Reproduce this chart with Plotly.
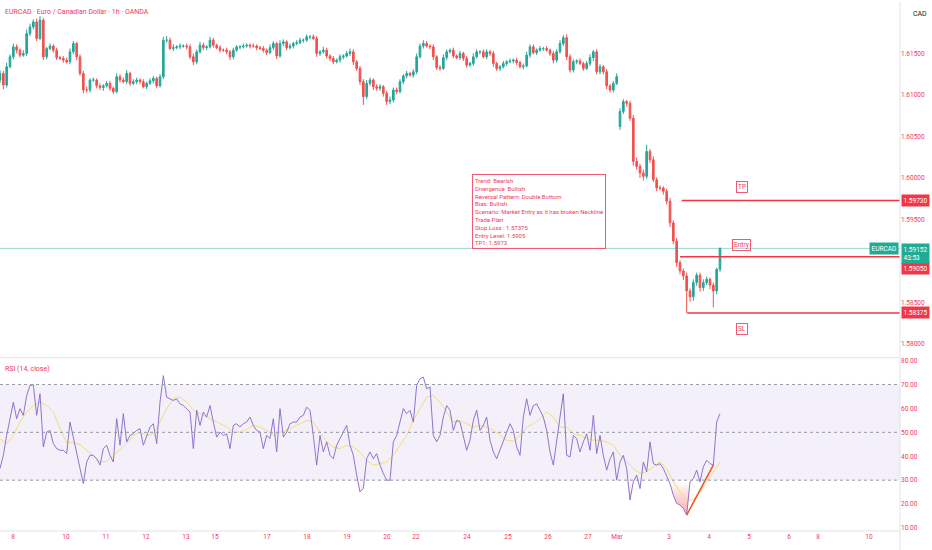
import plotly.graph_objects as go
from plotly.subplots import make_subplots

# EURCAD closes (in pips, 1 pip = 0.0001), one value per 2h bar
close_pips = [
    16126, 16112, 16134, 16146, 16158, 16154, 16148, 16150, 16174, 16182,
    16188, 16168, 16190, 16146, 16156, 16159, 16154, 16145, 16144, 16142,
    16140, 16152, 16162, 16146, 16126, 16106, 16106, 16118, 16118, 16111,
    16109, 16111, 16114, 16108, 16104, 16122, 16118, 16116, 16126, 16114,
    16116, 16118, 16116, 16110, 16114, 16117, 16120, 16111, 16122, 16166,
    16166, 16156, 16157, 16158, 16159, 16159, 16158, 16146, 16140, 16152,
    16160, 16157, 16158, 16166, 16160, 16157, 16154, 16154, 16152, 16146,
    16154, 16158, 16158, 16159, 16160, 16159, 16159, 16157, 16156, 16154,
    16151, 16157, 16162, 16147, 16162, 16164, 16157, 16159, 16162, 16163,
    16166, 16166, 16170, 16170, 16168, 16150, 16152, 16154, 16147, 16144,
    16140, 16142, 16146, 16147, 16150, 16152, 16140, 16132, 16116, 16098,
    16114, 16118, 16110, 16108, 16110, 16102, 16092, 16094, 16106, 16104,
    16116, 16123, 16126, 16124, 16128, 16146, 16159, 16162, 16159, 16158,
    16146, 16133, 16132, 16145, 16152, 16154, 16147, 16145, 16150, 16144,
    16136, 16138, 16146, 16152, 16152, 16146, 16152, 16150, 16138, 16132,
    16134, 16138, 16140, 16141, 16142, 16139, 16134, 16135, 16148, 16158,
    16151, 16154, 16156, 16156, 16154, 16150, 16142, 16152, 16162, 16169,
    16146, 16130, 16140, 16141, 16138, 16132, 16138, 16145, 16152, 16128,
    16134, 16128, 16111, 16106, 16114, 16122, 16080, 16092, 16090, 16072,
    16020, 16014, 16006, 16002, 16032, 16022, 15998, 15988, 15988, 15984,
    15972, 15946, 15924, 15898, 15888, 15882, 15864, 15857, 15874, 15883,
    15868, 15874, 15878, 15871, 15864, 15890, 15915.2,
]
wick_up = [
    4, 3, 5, 3, 4, 3, 2, 4, 5, 4,
    3, 4, 5, 3, 2, 3, 2, 3, 2, 3,
    3, 4, 3, 2, 3, 3, 4, 2, 3, 2,
    3, 2, 3, 3, 2, 4, 3, 3, 4, 2,
    3, 3, 2, 3, 2, 3, 3, 2, 3, 4,
    5, 3, 4, 2, 3, 2, 3, 3, 4, 3,
    4, 3, 2, 4, 3, 2, 3, 2, 3, 2,
    3, 2, 2, 3, 2, 2, 3, 2, 2, 3,
    2, 4, 3, 2, 4, 3, 2, 3, 2, 3,
    3, 2, 3, 2, 3, 3, 2, 4, 3, 2,
    3, 2, 3, 2, 3, 4, 3, 2, 3, 3,
    4, 3, 2, 3, 3, 2, 3, 4, 3, 3,
    3, 2, 3, 2, 3, 4, 3, 4, 3, 2,
    3, 2, 3, 4, 3, 2, 3, 2, 3, 2,
    3, 2, 4, 3, 2, 3, 3, 2, 3, 2,
    2, 3, 2, 3, 2, 3, 2, 3, 4, 3,
    3, 2, 3, 2, 3, 2, 3, 3, 4, 3,
    4, 3, 3, 2, 3, 2, 3, 4, 2, 3,
    3, 2, 3, 2, 3, 4, 4, 3, 2, 3,
    4, 5, 3, 4, 8, 3, 4, 3, 3, 2,
    3, 4, 3, 4, 3, 3, 4, 3, 4, 3,
    3, 4, 3, 2, 3, 2, 1,
]
wick_dn = [
    4, 5, 3, 2, 3, 4, 3, 2, 3, 3,
    3, 3, 2, 4, 3, 2, 3, 3, 2, 3,
    2, 3, 3, 4, 3, 4, 3, 3, 2, 3,
    3, 4, 2, 3, 3, 2, 3, 2, 3, 3,
    2, 3, 3, 2, 3, 2, 3, 3, 2, 3,
    3, 2, 3, 2, 3, 2, 3, 3, 4, 3,
    2, 3, 3, 2, 3, 2, 3, 2, 3, 4,
    3, 2, 3, 2, 2, 3, 2, 3, 2, 3,
    3, 2, 3, 4, 2, 3, 3, 2, 3, 2,
    2, 3, 2, 3, 2, 4, 3, 2, 3, 3,
    3, 2, 3, 3, 2, 3, 4, 3, 4, 10,
    3, 3, 4, 3, 3, 4, 4, 3, 3, 3,
    2, 3, 3, 2, 3, 3, 2, 3, 2, 3,
    4, 3, 3, 2, 3, 2, 3, 2, 3, 3,
    3, 2, 3, 2, 3, 2, 3, 3, 4, 3,
    3, 2, 3, 2, 3, 3, 2, 3, 2, 3,
    2, 3, 2, 3, 2, 3, 4, 3, 2, 3,
    4, 3, 3, 3, 2, 3, 2, 3, 4, 3,
    3, 3, 4, 3, 3, 2, 4, 3, 4, 3,
    5, 4, 6, 5, 3, 4, 3, 4, 3, 4,
    4, 5, 4, 5, 4, 5, 27, 6, 5, 4,
    5, 4, 3, 5, 20, 4, 3,
]
first_open = 16118
gap_open = {186: 16062}  # weekend gap

# RSI (14, close), one value per bar
rsi = [
    34.9, 40.4, 48.7, 55.7, 62.6, 55.7, 59.9, 57.1, 65.4, 69.6,
    69.9, 57.1, 66.1, 43.9, 50.1, 50.8, 45.3, 43.2, 42.5, 42.5,
    41.1, 54.3, 47.4, 40.4, 34.9, 28.6, 37.6, 40.4, 40.4, 39.0,
    36.3, 43.2, 44.6, 40.4, 37.6, 55.7, 44.6, 57.8, 46.0, 48.7,
    49.4, 50.8, 51.5, 44.6, 48.7, 52.2, 53.6, 45.3, 62.6, 73.7,
    64.7, 64.0, 63.3, 64.0, 61.9, 61.2, 59.9, 58.5, 43.2, 59.2,
    52.9, 58.5, 56.4, 61.2, 54.3, 48.0, 50.1, 48.7, 49.4, 43.2,
    52.9, 53.6, 52.2, 53.6, 54.3, 56.4, 52.9, 50.8, 50.1, 43.2,
    48.7, 47.4, 55.7, 41.8, 59.9, 48.0, 50.1, 53.6, 54.3, 54.3,
    56.4, 57.1, 60.5, 59.2, 48.7, 36.3, 48.7, 41.8, 46.0, 40.4,
    39.0, 44.6, 47.4, 50.1, 52.9, 44.6, 40.4, 32.1, 25.1, 26.5,
    39.0, 41.8, 39.0, 41.1, 36.3, 32.8, 30.0, 30.0, 46.0, 48.7,
    54.3, 59.9, 57.8, 59.2, 54.3, 69.6, 72.4, 73.1, 68.2, 68.9,
    48.7, 46.0, 48.7, 56.4, 61.2, 59.2, 50.8, 55.0, 54.3, 48.7,
    42.5, 46.7, 55.0, 59.2, 50.8, 52.9, 56.4, 46.7, 41.8, 39.0,
    42.5, 46.0, 50.1, 53.6, 50.8, 43.9, 40.4, 56.4, 64.0, 57.1,
    61.2, 61.9, 59.2, 56.4, 50.8, 41.8, 36.3, 47.4, 56.4, 66.1,
    40.4, 39.7, 48.7, 47.4, 41.8, 46.0, 49.4, 42.5, 57.1, 41.1,
    48.7, 40.4, 34.2, 39.0, 41.8, 30.0, 37.6, 40.4, 34.9, 21.7,
    29.3, 32.1, 26.5, 37.6, 33.5, 46.0, 36.9, 36.3, 36.9, 34.9,
    31.4, 28.6, 23.7, 20.3, 19.6, 18.2, 15.4, 29.3, 30.7, 34.2,
    29.3, 35.6, 38.3, 36.9, 36.3, 54.3, 57.8,
]
# RSI-based MA, read every second bar
rsi_ma = [
    47.4, 45.3, 48.7, 54.3, 58.5, 61.2, 62.6, 61.2, 58.5, 51.5,
    45.7, 45.7, 44.9, 42.5, 40.4, 37.6, 37.9, 40.4, 42.5, 45.3,
    48.7, 49.9, 48.7, 49.4, 54.3, 59.9, 64.0, 64.7, 62.6, 59.2,
    57.8, 56.4, 55.0, 53.6, 52.2, 50.1, 50.1, 51.2, 52.9, 52.2,
    50.8, 48.7, 50.1, 50.8, 52.2, 53.6, 55.0, 54.3, 50.1, 46.0,
    43.9, 43.2, 44.6, 43.9, 41.8, 38.3, 36.3, 36.9, 37.6, 40.4,
    44.6, 48.7, 55.0, 59.9, 64.7, 65.4, 62.6, 58.5, 54.3, 55.0,
    53.6, 52.2, 52.9, 52.2, 50.8, 48.7, 46.7, 46.3, 48.7, 52.2,
    53.6, 55.7, 58.5, 56.4, 52.2, 52.2, 49.4, 48.7, 47.4, 46.7,
    46.7, 46.0, 44.6, 40.4, 37.6, 34.9, 32.8, 33.5, 35.6, 37.6,
    34.9, 29.3, 25.1, 21.7, 21.7, 25.1, 29.3, 33.5, 37.6,
]

date_ticks = ["8", "10", "11", "12", "13", "15", "17", "18", "19", "20", "22",
              "24", "25", "26", "27", "Mar", "3", "4", "5", "6", "8", "10"]
date_tick_bars = [3.9, 19.8, 31.8, 43.8, 55.8, 64.5, 80.1, 92.1, 104.1, 116.1, 124.8,
                  140.1, 152.4, 164.4, 176.4, 185.1, 200.7, 212.7, 224.7, 236.7, 245.4, 260.7]
price_ticks = [1.58, 1.585, 1.595, 1.60, 1.605, 1.61, 1.615]
rsi_ticks = [10, 20, 30, 40, 50, 60, 70, 80]

tp_price, entry_price, sl_price = 1.5973, 1.5905, 1.58375
level_start = {"TP": 204.5, "Entry": 204, "SL": 206.2}
plan_lines = [
    "Trend: Bearish",
    "Divergence: Bullish",
    "Reversal Pattern: Double Bottom",
    "Bias: Bullish",
    "Scenario: Market Entry as it has broken Neckline",
    "Trade Plan",
    "Stop Loss : 1.57375",
    "Entry Level: 1.5905",
    "TP1: 1.5973",
]

RED = "#f23645"
TXT = "#ee3a5c"
TEAL = "#22ab94"
FONT = "Roboto, sans-serif"
X_END = 270

bars = list(range(len(close_pips)))
opens = [first_open] + close_pips[:-1]
for k, v in gap_open.items():
    opens[k] = v
highs = [max(o, c) + u for o, c, u in zip(opens, close_pips, wick_up)]
lows = [min(o, c) - d for o, c, d in zip(opens, close_pips, wick_dn)]
to_price = lambda arr: [v / 10000 for v in arr]
last_close = close_pips[-1] / 10000

fig = make_subplots(rows=2, cols=1, shared_xaxes=True, vertical_spacing=0.004)

fig.add_trace(go.Candlestick(
    x=bars, open=to_price(opens), high=to_price(highs), low=to_price(lows), close=to_price(close_pips),
    increasing=dict(line=dict(color="#26a69a", width=1), fillcolor="#26a69a"),
    decreasing=dict(line=dict(color="#ef5350", width=1), fillcolor="#ef5350"),
    whiskerwidth=0, showlegend=False, hoverinfo="skip"), row=1, col=1)

# trade plan levels
for name, lvl in [("TP", tp_price), ("Entry", entry_price), ("SL", sl_price)]:
    fig.add_trace(go.Scatter(x=[level_start[name], X_END], y=[lvl, lvl], mode="lines",
                             line=dict(color=RED, width=1.5), showlegend=False, hoverinfo="skip"),
                  row=1, col=1)

# RSI pane: oversold gradient fill
fig.add_trace(go.Scatter(x=bars, y=[30] * len(bars), mode="lines", line=dict(width=0),
                         showlegend=False, hoverinfo="skip"), row=2, col=1)
fig.add_trace(go.Scatter(x=bars, y=[min(v, 30) for v in rsi], mode="lines", line=dict(width=0),
                         fill="tonexty",
                         fillgradient=dict(type="vertical", start=12, stop=30,
                                           colorscale=[[0, "rgba(242,54,69,0.55)"], [1, "rgba(242,54,69,0.0)"]]),
                         showlegend=False, hoverinfo="skip"), row=2, col=1)
fig.add_trace(go.Scatter(x=list(range(0, len(bars), 2)), y=rsi_ma, mode="lines",
                         line=dict(color="#f2dc7a", width=1), showlegend=False, hoverinfo="skip"),
              row=2, col=1)
fig.add_trace(go.Scatter(x=bars, y=rsi, mode="lines", line=dict(color="#8466c8", width=0.9),
                         showlegend=False, hoverinfo="skip"), row=2, col=1)
# divergence trendline
fig.add_trace(go.Scatter(x=[206, 214], y=[rsi[206], rsi[214]], mode="lines",
                         line=dict(color="#f4511e", width=1.5), showlegend=False, hoverinfo="skip"),
              row=2, col=1)

shapes = [
    dict(type="rect", xref="x2", yref="y2", x0=0, x1=X_END, y0=30, y1=70,
         fillcolor="rgba(126,87,194,0.09)", line_width=0, layer="below"),
    dict(type="line", xref="paper", yref="y", x0=0, x1=1, y0=last_close, y1=last_close,
         line=dict(color="rgba(34,171,148,0.45)", width=1)),
    dict(type="line", xref="paper", yref="paper", x0=0, x1=1, y0=0.3277, y1=0.3277,
         line=dict(color="#e0e3eb", width=1)),
    dict(type="line", xref="paper", yref="paper", x0=1, x1=1, y0=-0.04, y1=1,
         line=dict(color="#e0e3eb", width=1)),
    dict(type="line", xref="paper", yref="paper", x0=0, x1=1, y0=0, y1=0,
         line=dict(color="#e0e3eb", width=1)),
]
for lvl in (70, 50, 30):
    shapes.append(dict(type="line", xref="x2", yref="y2", x0=0, x1=X_END, y0=lvl, y1=lvl,
                       line=dict(color="#9598a1", width=1, dash="3px,3px")))

ann = [
    dict(text="EURCAD · Euro / Canadian Dollar · 1h · OANDA", xref="paper", yref="paper",
         x=0, y=1, xanchor="left", yanchor="top", xshift=3, yshift=-4,
         font=dict(size=7, color=TXT, family=FONT), showarrow=False),
    dict(text="RSI (14, close)", xref="paper", yref="paper", x=0, y=0.3258,
         xanchor="left", yanchor="top", xshift=3, yshift=-4,
         font=dict(size=7, color=TXT, family=FONT), showarrow=False),
    dict(text="CAD", xref="paper", yref="paper", x=1, y=1, xanchor="left", yanchor="top",
         xshift=11, yshift=-6, font=dict(size=7, color="#131722", family=FONT), showarrow=False),
    dict(text="<br>".join(plan_lines), xref="x", yref="y", x=141.6, y=1.60044,
         xanchor="left", yanchor="top", align="left", showarrow=False,
         font=dict(size=6, color=TXT, family=FONT), bordercolor="#ef5a78", borderwidth=1,
         borderpad=2, bgcolor="rgba(255,255,255,0)"),
]
for name, lvl, shift in [("TP", tp_price, 13), ("Entry", entry_price, 12), ("SL", sl_price, -16)]:
    ann.append(dict(text=name, xref="x", yref="y", x=222.5, y=lvl, yshift=shift, showarrow=False,
                    font=dict(size=6.5, color=TXT, family=FONT), bordercolor="#ef5a78",
                    borderwidth=1, borderpad=1))
for lvl, shift in [(tp_price, 0), (entry_price, -12), (sl_price, 0)]:
    ann.append(dict(text=f"{lvl:.5f}", xref="paper", yref="y", x=1, y=lvl, xanchor="left",
                    xshift=1, yshift=shift, showarrow=False, bgcolor=RED, borderpad=1.5,
                    font=dict(size=6.5, color="white", family=FONT)))
ann.append(dict(text=f"{last_close:.5f}<br>43:53", xref="paper", yref="y", x=1, y=last_close,
                xanchor="left", yanchor="top", xshift=1, yshift=5, showarrow=False, bgcolor=TEAL,
                borderpad=1.5, align="left", font=dict(size=6.5, color="white", family=FONT)))
ann.append(dict(text="EURCAD", xref="paper", yref="y", x=1, y=last_close, xanchor="right",
                xshift=-1, showarrow=False, bgcolor=TEAL, borderpad=1.5,
                font=dict(size=6.5, color="white", family=FONT)))

fig.update_layout(
    width=932, height=550, margin=dict(l=0, r=32, t=0, b=19),
    paper_bgcolor="white", plot_bgcolor="white", showlegend=False,
    shapes=shapes, annotations=ann, font=dict(family=FONT),
    xaxis_rangeslider_visible=False,
)
fig.update_xaxes(range=[0, X_END], showgrid=False, zeroline=False, showline=False,
                 tickvals=date_tick_bars, ticktext=date_ticks, ticks="",
                 tickfont=dict(size=6.5, color=TXT, family=FONT))
fig.update_yaxes(showgrid=False, zeroline=False, side="right", ticks="",
                 tickfont=dict(size=6.5, color=TXT, family=FONT))
fig.update_layout(
    yaxis=dict(domain=[0.3296, 1], range=[1.57848, 1.6212], tickvals=price_ticks, tickformat=".5f"),
    yaxis2=dict(domain=[0, 0.3258], range=[8.75, 80.8], tickvals=rsi_ticks, tickformat=".2f"),
)

# page body has a default 8px margin; drop it so the figure fills the window
fig.write_html("out.html", config={"displayModeBar": False},
               post_script="document.body.style.margin='0';")
